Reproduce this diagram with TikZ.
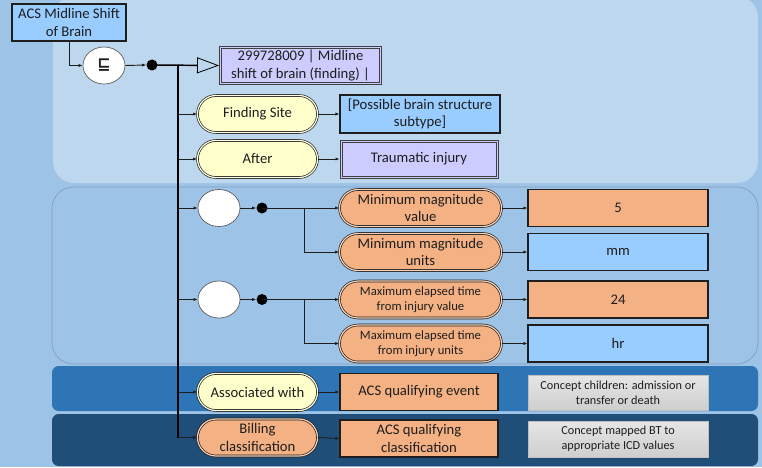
\documentclass[tikz,border=0pt]{standalone}
\usepackage{fontspec}
\setmainfont{Carlito}
\newfontfamily\symfnt{DejaVu Sans}
\usetikzlibrary{arrows.meta,shapes.misc,shapes.geometric}
\definecolor{bgc}{HTML}{9DC3E6}
\definecolor{pone}{HTML}{BDD7EE}
\definecolor{pthree}{HTML}{2E75B6}
\definecolor{pfour}{HTML}{1F4E79}
\definecolor{pedge}{HTML}{7F9DBF}
\definecolor{lblue}{HTML}{99CCFF}
\definecolor{lav}{HTML}{CCCCFF}
\definecolor{ylw}{HTML}{FFFFCC}
\definecolor{org}{HTML}{F4B183}
\definecolor{ink}{HTML}{1E1E1E}
\tikzset{
  sz/.style 2 args={minimum width=#1*0.75pt, minimum height=#2*0.75pt},
  base/.style={inner sep=0pt, align=center, text=ink, font=\fontsize{11}{13}\selectfont},
  small/.style={font=\fontsize{9.5}{10.8}\selectfont},
  pill/.style={base, rounded rectangle, draw=ink, line width=0.5pt, double=#1!60!white, double distance=0.9pt, fill=#1},
  sbox/.style={base, rectangle, draw=ink, line width=0.8pt, fill=#1},
  dbox/.style={base, rectangle, draw=ink!85, line width=0.7pt, fill=#1,
    path picture={\draw[ink!85, line width=0.5pt]
      ([shift={(1.6pt,1.6pt)}]path picture bounding box.south west) rectangle
      ([shift={(-1.6pt,-1.6pt)}]path picture bounding box.north east);}},
  gbox/.style={base, rectangle, top color=gray!20, bottom color=gray!38, draw=gray!50, line width=0.3pt, font=\fontsize{9.2}{11}\selectfont},
  wel/.style={base, ellipse, draw=gray!70!black, line width=0.5pt, fill=white},
  bdot/.style={circle, fill=black, inner sep=0pt, minimum size=8.25pt},
  conn/.style={draw=ink, line width=0.7pt, -{Latex[length=3pt,width=2.4pt]}},
  trunk/.style={draw=black, line width=1.5pt},
}
\begin{document}
\begin{tikzpicture}[x=0.75pt,y=-0.75pt]
\useasboundingbox (0,0) rectangle (762,467);
% background panels
\fill[bgc] (0,0) rectangle (762,467);
\fill[pone, rounded corners=16pt] (53,-4) rectangle (758,183);
\draw[pedge, fill=bgc, line width=0.5pt, rounded corners=16pt] (52,187) rectangle (758,364);
\fill[pthree, rounded corners=5pt] (52,366) rectangle (758,411);
\fill[pfour, rounded corners=5pt] (52,414) rectangle (758,466);

% nodes
\node[sbox=lblue, sz={114}{37}] (acs) at (69,22.5) {ACS Midline Shift\\of Brain};
\node[wel, sz={42}{37}] (sub) at (104,65.5) {\symfnt\bfseries\fontsize{12}{12}\selectfont ⊑};
\node[bdot] (d1) at (152,65) {};
\node[dbox=lav, sz={162}{38}] (concept) at (300.5,65.5) {299728009 | Midline\\shift of brain (finding) |};

\node[pill=ylw, sz={120}{37}] (fs) at (257.5,114) {Finding Site};
\node[sbox=lblue, sz={160}{38}] (fst) at (420,114) {[Possible brain structure\\subtype]};
\node[pill=ylw, sz={120}{37}] (after) at (257.5,159) {After};
\node[dbox=lav, sz={158}{38}] (aftert) at (419,159) {Traumatic injury};

\node[wel, sz={42}{37}] (e1) at (219,208) {};
\node[bdot] (d2) at (262,208) {};
\node[pill=org, sz={162}{37}] (mmv) at (420.5,208) {Minimum magnitude\\value};
\node[pill=org, sz={162}{37}] (mmu) at (420.5,252) {Minimum magnitude\\units};
\node[sbox=org, sz={180}{37}] (v5) at (618,208) {5};
\node[sbox=lblue, sz={180}{37}] (vmm) at (618,252) {mm};

\node[wel, sz={42}{37}] (e2) at (219,299.5) {};
\node[bdot] (d3) at (262,299.5) {};
\node[pill=org, sz={162}{37}, small] (mev) at (420.5,299.5) {Maximum elapsed time\\from injury value};
\node[pill=org, sz={162}{37}, small] (meu) at (420.5,343.5) {Maximum elapsed time\\from injury units};
\node[sbox=org, sz={180}{37}] (v24) at (618,299.5) {24};
\node[sbox=lblue, sz={180}{37}] (vhr) at (618,343.5) {hr};

\node[pill=ylw, sz={120}{37}] (assoc) at (257.5,392) {Associated with};
\node[sbox=org, sz={158}{37}] (qe) at (419,392) {ACS qualifying event};
\node[gbox, sz={180}{35}] (g1) at (618,392.5) {Concept children: admission or\\transfer or death};

\node[pill=org, sz={120}{37}] (bill) at (257.5,437.5) {Billing\\classification};
\node[sbox=org, sz={158}{37}] (qc) at (419,438.5) {ACS qualifying\\classification};
\node[gbox, sz={180}{36}] (g2) at (618,439) {Concept mapped BT to\\appropriate ICD values};

% connectors
\coordinate (t0) at (178,65);
\coordinate (b1) at (304,208);
\coordinate (b2) at (304,299.5);
\draw[conn] (acs.south) |- (sub.west);
\draw[conn] (sub.east) -- (d1.west);
\draw[draw=black, line width=1.1pt, -{Triangle[open, length=16.5pt, width=12pt, line width=0.6pt]}] (d1.center) -- (concept.west);
\draw[trunk] (t0) -- (t0 |- bill.west);
\draw[conn] (t0 |- fs.west) -- (fs.west);
\draw[conn] (t0 |- after.west) -- (after.west);
\draw[conn] (t0 |- e1.west) -- (e1.west);
\draw[conn] (t0 |- e2.west) -- (e2.west);
\draw[conn] (t0 |- assoc.west) -- (assoc.west);
\draw[conn] (t0 |- bill.west) -- (bill.west);
\draw[conn] (fs.east) -- (fst.west);
\draw[conn] (after.east) -- (aftert.west);
\draw[conn] (e1.east) -- (d2.west);
\draw[conn] (d2.center) -- (mmv.west);
\draw[conn] (b1) |- (mmu.west);
\draw[conn] (mmv.east) -- (v5.west);
\draw[conn] (mmu.east) -- (vmm.west);
\draw[conn] (e2.east) -- (d3.west);
\draw[conn] (d3.center) -- (mev.west);
\draw[conn] (b2) |- (meu.west);
\draw[conn] (mev.east) -- (v24.west);
\draw[conn] (meu.east) -- (vhr.west);
\draw[conn] (assoc.east) -- (qe.west);
\draw[conn] (bill.east) -- (qc.west);
\end{tikzpicture}
\end{document}
